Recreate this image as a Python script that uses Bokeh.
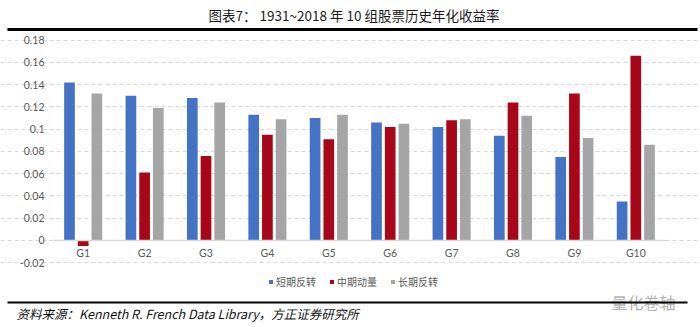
from bokeh.plotting import figure
from bokeh.models import Range1d, FixedTicker, Legend, LegendItem, ColumnDataSource, Label, BoxAnnotation
from bokeh.transform import dodge
from bokeh.embed import file_html
from bokeh.resources import INLINE

# ---- data ----
groups = ["G1", "G2", "G3", "G4", "G5", "G6", "G7", "G8", "G9", "G10"]
short_rev = [0.142, 0.130, 0.128, 0.113, 0.110, 0.106, 0.102, 0.094, 0.075, 0.035]
mid_mom = [-0.005, 0.061, 0.076, 0.095, 0.091, 0.102, 0.108, 0.124, 0.132, 0.166]
long_rev = [0.132, 0.119, 0.124, 0.109, 0.113, 0.105, 0.109, 0.112, 0.092, 0.086]
series_names = ["短期反转", "中期动量", "长期反转"]
y_ticks = [-0.02, 0.0, 0.02, 0.04, 0.06, 0.08, 0.10, 0.12, 0.14, 0.16, 0.18]
y_tick_labels = ["-0.02", "0", "0.02", "0.04", "0.06", "0.08", "0.1", "0.12", "0.14", "0.16", "0.18"]
title_text = "图表7：  1931~2018 年 10 组股票历史年化收益率"
source_text = "资料来源：Kenneth R. French Data Library，方正证券研究所"
watermark_text = "量化卷轴"

colors = ["#4472C4", "#A8071A", "#A5A5A5"]
CJK = "Noto Sans CJK SC"
LAT = "Lato"

W, H = 700, 327
idx = list(range(len(groups)))

src = ColumnDataSource(dict(x=idx, s=short_rev, m=mid_mom, l=long_rev))
p = figure(width=W, height=H, x_range=Range1d(-1.3469, 10.0537),
           y_range=Range1d(-0.07817, 0.21563), toolbar_location=None,
           output_backend="svg", min_border=0, outline_line_color=None)

bw = 0.174
off = 0.223
r1 = p.vbar(x=dodge("x", -off), top="s", width=bw, source=src,
            fill_color=colors[0], line_color=None)
r2 = p.vbar(x=dodge("x", 0), top="m", width=bw, source=src,
            fill_color=colors[1], line_color=None)
r3 = p.vbar(x=dodge("x", off), top="l", width=bw, source=src,
            fill_color=colors[2], line_color=None)

p.xgrid.visible = False
p.ygrid.ticker = FixedTicker(ticks=y_ticks)
p.ygrid.bounds = (-0.5, 9.5)
p.ygrid.grid_line_color = "#D9D9D9"
p.ygrid.grid_line_dash = "4 3"
p.ygrid.grid_line_width = 1

p.yaxis.fixed_location = -0.5
p.yaxis.ticker = FixedTicker(ticks=y_ticks)
p.yaxis.major_label_overrides = {t: l for t, l in zip(y_ticks, y_tick_labels)}
p.yaxis.axis_line_color = None
p.yaxis.major_tick_line_color = None
p.yaxis.major_tick_out = 0
p.yaxis.minor_tick_line_color = None
p.yaxis.major_label_text_font = LAT
p.yaxis.major_label_text_font_size = "10.5px"
p.yaxis.major_label_text_color = "#595959"
p.yaxis.major_label_standoff = 8

p.xaxis.fixed_location = 0
p.xaxis.bounds = (-0.5, 9.5)
p.xaxis.ticker = FixedTicker(ticks=idx)
p.xaxis.major_label_overrides = {i: g for i, g in zip(idx, groups)}
p.xaxis.axis_line_color = "#D9D9D9"
p.xaxis.axis_line_width = 1.5
p.xaxis.major_tick_line_color = None
p.xaxis.major_tick_out = 0
p.xaxis.minor_tick_line_color = None
p.xaxis.major_label_text_font = LAT
p.xaxis.major_label_text_font_size = "10.5px"
p.xaxis.major_label_text_color = "#595959"
p.xaxis.major_label_standoff = 7

legend = Legend(items=[LegendItem(label=series_names[0], renderers=[r1]),
                       LegendItem(label=series_names[1], renderers=[r2]),
                       LegendItem(label=series_names[2], renderers=[r3])],
                orientation="horizontal", location=(268, 38),
                glyph_width=5, glyph_height=5, label_standoff=3, spacing=13,
                padding=0, margin=0, border_line_color=None, background_fill_alpha=0,
                label_text_font=CJK, label_text_font_size="10px", label_text_color="#595959",
                label_height=12)
p.add_layout(legend, "center")

# ---- title, rules, source ----
p.add_layout(Label(x=355, y=H - 14, x_units="screen", y_units="screen", text=title_text,
                   text_font=CJK, text_font_size="13.5px", text_color="#1A1A1A",
                   text_align="center", text_baseline="middle"))
p.add_layout(BoxAnnotation(left=7, right=697, top=H - 27.5, bottom=H - 30.5,
                           left_units="screen", right_units="screen",
                           top_units="screen", bottom_units="screen",
                           fill_color="black", fill_alpha=1, line_color=None))
p.add_layout(Label(x=643, y=H - 301, x_units="screen", y_units="screen", text=watermark_text,
                   text_font=CJK, text_font_size="16px", text_color="#B3B3B3",
                   text_align="center", text_baseline="middle"))
p.add_layout(BoxAnnotation(left=7, right=687, top=H - 301, bottom=H - 303,
                           left_units="screen", right_units="screen",
                           top_units="screen", bottom_units="screen",
                           fill_color="black", fill_alpha=1, line_color=None))
p.add_layout(Label(x=16, y=H - 313, x_units="screen", y_units="screen", text=source_text,
                   text_font=CJK, text_font_size="12.5px", text_font_style="italic",
                   text_color="#111111", text_align="left", text_baseline="middle"))

open("out.html", "w").write(file_html(p, INLINE))
